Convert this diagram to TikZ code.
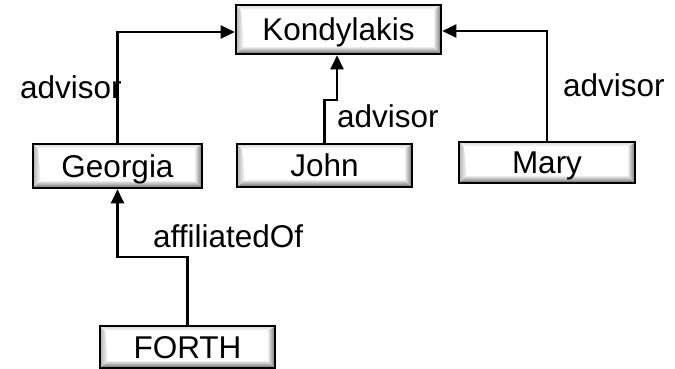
\documentclass[tikz,border=0pt]{standalone}
\usepackage{fontspec}
\setmainfont{Liberation Sans}
\usetikzlibrary{arrows.meta,calc}

\tikzset{
  bevelbox/.style={
    draw=black, line width=2.6pt, fill=white,
    minimum width=#1, inner sep=0pt,
    font=\fontsize{31.5}{36}\selectfont,
    text height=22.5pt, text depth=0pt,
    path picture={
      \coordinate (bsw) at (path picture bounding box.south west);
      \coordinate (bse) at (path picture bounding box.south east);
      \coordinate (bne) at (path picture bounding box.north east);
      \coordinate (bnw) at (path picture bounding box.north west);
      % bottom bevel
      \shade[top color=white, bottom color=black!60]
        (bsw) -- (bse) -- ($(bse)+(-8pt,8pt)$) -- ($(bsw)+(8pt,8pt)$) -- cycle;
      % right bevel
      \shade[left color=white, right color=black!55]
        (bse) -- (bne) -- ($(bne)+(-8pt,-5pt)$) -- ($(bse)+(-8pt,8pt)$) -- cycle;
      % left bevel
      \shade[left color=black!30, right color=white]
        (bsw) -- (bnw) -- ($(bnw)+(5pt,-5pt)$) -- ($(bsw)+(8pt,8pt)$) -- cycle;
      % top bevel
      \shade[top color=black!15, bottom color=white]
        (bnw) -- (bne) -- ($(bne)+(-8pt,-5pt)$) -- ($(bnw)+(5pt,-5pt)$) -- cycle;
    }
  },
  arr/.style={line width=2.6pt, -{Triangle[length=14pt,width=13pt]}},
  lbl/.style={inner sep=0pt, anchor=base west, font=\fontsize{31.5}{36}\selectfont}
}

\begin{document}
\begin{tikzpicture}[x=1pt, y=-1pt]
  \useasboundingbox (0,0) rectangle (675,368);

  % boxes
  \node[bevelbox=205pt, minimum height=49pt] (K) at (338.5,29.5) {Kondylakis};
  \node[bevelbox=169pt, minimum height=44pt] (G) at (117.5,166) {Georgia};
  \node[bevelbox=175pt, minimum height=43pt] (J) at (324.5,165.5) {John};
  \node[bevelbox=176pt, minimum height=41pt] (M) at (547,162.5) {Mary};
  \node[bevelbox=175pt, minimum height=42pt] (F) at (187.5,347) {FORTH};

  % connectors
  \draw[arr] (G.north) |- (K.west |- 0,32);
  \draw[arr] (M.north) |- (K.east |- 0,31);
  \draw[arr] (J.north) -- (J.north |- 0,100) -| (K.south -| 337,0);
  \draw[arr] (F.north) -- (F.north |- 0,257) -| (G.south);

  % edge labels
  \node[lbl] (lg) at (20,98) {advisor};
  \node[lbl] (lm) at (563,96) {advisor};
  \node[lbl] (lj) at (337,127) {advisor};
  \node[lbl] (lf) at (153,247) {affiliatedOf};
\end{tikzpicture}
\end{document}
